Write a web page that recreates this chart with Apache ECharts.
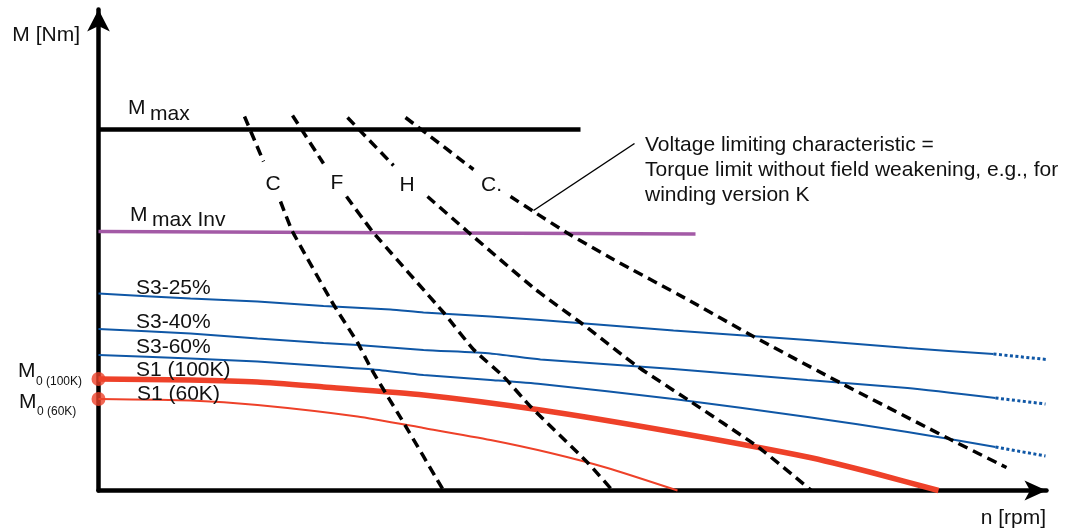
<!DOCTYPE html>
<html>
<head>
<meta charset="utf-8">
<script src="https://cdn.jsdelivr.net/npm/echarts@6/dist/echarts.min.js"></script>
<style>
html,body{margin:0;padding:0;background:#fff;}
#chart{width:1080px;height:528px;}
</style>
</head>
<body>
<div id="chart"></div>
<script>
// ---- Data (arbitrary n / M units) ----
const mMax      = [[0,361],[482,361]];
const mMaxInv   = [[0,259],[597,256.5]];

const s3_25     = [[0,197],[92,192],[159,189],[225,184.5],[292,181],[325,178],[392,174],[442,170.5],[575,160],[709,150.5],[809,142.5],[895,136.5]];
const s3_25Ext  = [[895,136.5],[953,130.5]];
const s3_40     = [[0,161.5],[92,157],[159,152],[225,147.5],[259,145.5],[325,140.5],[392,137],[442,131],[575,121.5],[709,110.5],[809,102.5],[897,92.5]];
const s3_40Ext  = [[897,92.5],[947,86.5]];
const s3_60     = [[0,135.5],[92,132],[159,129],[225,124.5],[275,121],[325,115.5],[392,110.5],[442,106.5],[575,91.5],[709,73.5],[809,58.5],[897,43.5]];
const s3_60Ext  = [[897,43.5],[947,34.5]];
const s1_100K   = [[0,111.5],[92,110.5],[159,108.5],[225,103.5],[325,95.5],[442,80.5],[575,58.5],[709,33.5],[775,17.5],[840,0]];
const s1_60K    = [[0,91.5],[92,90],[159,85.5],[259,74],[325,62.5],[392,50.5],[452,37.5],[509,22.5],[579,0]];

// voltage limiting characteristics (winding versions), '-' = gap for the label
const voltC1 = [[146,374],[165,329],['-','-'],[182,289],[194,259],[235,186],[259,148],[272,123],[285,101],[305,68],[345,0]];
const voltF  = [[194,375],[225,327],['-','-'],[248,294],[274,259],[345,178],[375,141],[405,114],[432,84],[489,28],[514,0]];
const voltH  = [[249,373],[295,325],['-','-'],[329,294],[369,259],[437,201],[482,168],[539,124],[589,91],[659,44],[713,0]];
const voltC2 = [[307,373],[375,321],['-','-'],[412,294],[435,279],[468,258],[515,231],[589,191],[655,154],[745,106],[852,51],[908,23]];
const leader = [[435,280],[536,347]];

const curveLabels = ['S3-25%','S3-40%','S3-60%','S1 (100K)','S1 (60K)'];
const windingLabels = ['C','F','H','C.'];
const noteLines = ['Voltage limiting characteristic =','Torque limit without field weakening, e.g., for','winding version K'];

// ---- Styles ----
const FONT = '"Liberation Sans", Arial, Helvetica, sans-serif';
const BLUE = '#0f57a6';
const RED = '#ee4129';
const PURPLE = '#a35aa6';
const TXT = '#111111';

function line(data, color, width, type, z, extra) {
  return Object.assign({
    type: 'line', data: data, symbol: 'none', showSymbol: false,
    connectNulls: false, clip: false, silent: true, animation: false, z: z || 2,
    lineStyle: { color: color, width: width, type: type || 'solid', cap: 'butt' }
  }, extra || {});
}

const series = [
  line(mMax, '#000', 4.5, 'solid', 3),
  line(mMaxInv, PURPLE, 3.5, 'solid', 3),
  line(s3_25, BLUE, 2, 'solid', 3, {smooth: 0.2}),
  line(s3_25Ext, BLUE, 3, [3,2.5], 3),
  line(s3_40, BLUE, 2, 'solid', 3, {smooth: 0.2}),
  line(s3_40Ext, BLUE, 3, [3,2.5], 3),
  line(s3_60, BLUE, 2, 'solid', 3, {smooth: 0.2}),
  line(s3_60Ext, BLUE, 3, [3,2.5], 3),
  line(s1_60K, RED, 2, 'solid', 4, {smooth: 0.2}),
  line(s1_100K, RED, 5.5, 'solid', 4, {smooth: 0.2}),
  line(voltC1, '#000', 3.5, [10,6], 5, {smooth: 0.15}),
  line(voltF, '#000', 3.5, [10,6], 5, {smooth: 0.15}),
  line(voltH, '#000', 3.5, [10,6], 5, {smooth: 0.15}),
  line(voltC2, '#000', 3.5, [10,6], 5, {smooth: 0.15}),
  line(leader, '#000', 1.5, 'solid', 5),
  {
    type: 'scatter', clip: false, silent: true, animation: false, z: 20,
    symbol: 'circle', symbolSize: 14, itemStyle: { color: RED },
    data: [s1_100K[0], s1_60K[0]]
  }
];

function txt(x, y, s, size, align, extra) {
  return Object.assign({
    type: 'text', x: x, y: y, z: 100, silent: true,
    style: { text: s, fontSize: size, fontFamily: FONT, fill: TXT, align: align || 'left', verticalAlign: 'middle' }
  }, extra || {});
}

const labelYs = [288, 322, 347, 370, 394];
const labelXs = [136, 136, 136, 136, 137];
const windX = [273, 337, 407, 481];
const windY = [184, 183, 185, 185];

const graphics = [
  txt(80, 35, 'M [Nm]', 21, 'right'),
  txt(1046, 518, 'n [rpm]', 21, 'right'),
  txt(128, 108, 'M', 21),
  txt(150, 114, 'max', 21),
  txt(130, 215, 'M', 21),
  txt(152, 220, 'max Inv', 21),
  txt(18, 371, 'M', 21),
  txt(36, 382, '0 (100K)', 12),
  txt(19, 402, 'M', 21),
  txt(37, 412, '0 (60K)', 12)
];
curveLabels.forEach((s, i) => graphics.push(txt(labelXs[i], labelYs[i], s, 21)));
windingLabels.forEach((s, i) => graphics.push(txt(windX[i], windY[i], s, 21, i === 3 ? 'left' : 'center')));
noteLines.forEach((s, i) => graphics.push(txt(645, 145 + i * 25, s, 21)));

const chart = echarts.init(document.getElementById('chart'), null, { renderer: 'canvas' });
chart.setOption({
  animation: false,
  backgroundColor: '#ffffff',
  grid: { left: 98.5, right: 33.5, top: 9.5, bottom: 37.5, containLabel: false },
  xAxis: {
    type: 'value', min: 0, max: 948,
    axisLine: { show: true, onZero: false, symbol: ['none', 'arrow'], symbolSize: [15, 22],
      lineStyle: { color: '#000', width: 4.5 } },
    axisTick: { show: false }, axisLabel: { show: false }, splitLine: { show: false }
  },
  yAxis: {
    type: 'value', min: 0, max: 481,
    axisLine: { show: true, onZero: false, symbol: ['none', 'arrow'], symbolSize: [17, 22],
      lineStyle: { color: '#000', width: 4.5 } },
    axisTick: { show: false }, axisLabel: { show: false }, splitLine: { show: false }
  },
  series: series,
  graphic: graphics
});
</script>
</body>
</html>
